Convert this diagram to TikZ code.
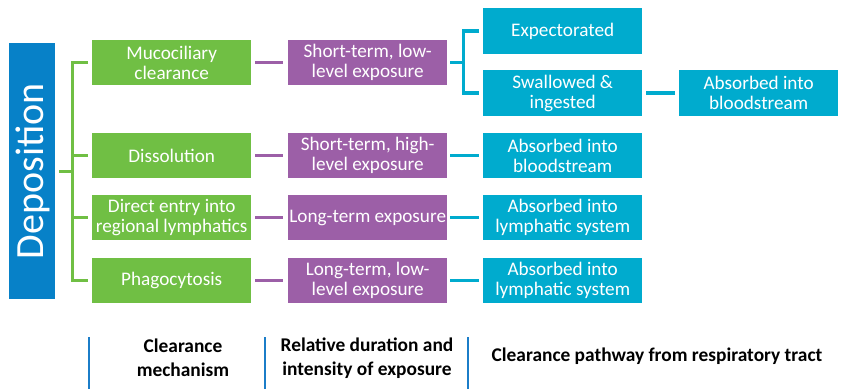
\documentclass[tikz,border=0pt]{standalone}
\usepackage{fontspec}
\setmainfont{Carlito}
\definecolor{depblue}{HTML}{0781C8}
\definecolor{mechgreen}{HTML}{70BF44}
\definecolor{expopurple}{HTML}{9C5FA7}
\definecolor{pathteal}{HTML}{00ABCE}
\definecolor{rulerblue}{HTML}{1B7DC8}
\tikzset{
  box/.style={anchor=north west, inner sep=0pt, minimum width=159pt,
    minimum height=45pt, align=center, text=white,
    font=\fontsize{19.2}{20}\selectfont},
  mech/.style={box, fill=mechgreen},
  expo/.style={box, fill=expopurple},
  path/.style={box, fill=pathteal, minimum height=46pt},
  gline/.style={draw=mechgreen, line width=3pt},
  pline/.style={draw=expopurple, line width=3.5pt},
  tline/.style={draw=pathteal, line width=3.5pt},
  ruler/.style={draw=rulerblue, line width=2.5pt},
  caption/.style={align=center, font=\fontsize{19.4}{24}\selectfont\bfseries}
}
\begin{document}
\begin{tikzpicture}[x=1pt,y=-1pt]
  \useasboundingbox (0,0) rectangle (847,389);

  % root
  \node[fill=depblue, anchor=north west, minimum width=46pt, minimum height=256pt,
    inner sep=0pt] (dep) at (9,43) {};
  \node[rotate=90, text=white, font=\fontsize{40}{40}\selectfont] (deptxt)
    at ([xshift=1pt]dep.center) {Deposition};

  % clearance mechanisms
  \node[mech] (muco) at (92,40) {Mucociliary\\clearance};
  \node[mech] (diss) at (92,133) {Dissolution};
  \node[mech] (lymph) at (92,195) {Direct entry into\\regional lymphatics};
  \node[mech] (phago) at (92,258) {Phagocytosis};

  % exposure
  \node[expo] (stlow) at (288,40) {Short-term, low-\\level exposure};
  \node[expo] (sthigh) at (288,133) {Short-term, high-\\level exposure};
  \node[expo] (lt) at (288,195) {Long-term exposure};
  \node[expo] (ltlow) at (288,258) {Long-term, low-\\level exposure};

  % pathways
  \node[path] (expec) at (483,8) {Expectorated};
  \node[path] (swal) at (483,70) {Swallowed \&\\ingested};
  \node[path] (blood) at (679,70) {Absorbed into\\bloodstream};
  \node[path, minimum height=45pt] (blood2) at (483,133) {Absorbed into\\bloodstream};
  \node[path, minimum height=45pt] (lsys) at (483,195) {Absorbed into\\lymphatic system};
  \node[path, minimum height=45pt] (lsys2) at (483,258) {Absorbed into\\lymphatic system};

  % green bracket
  \draw[gline] ([xshift=4pt]dep.east) -- ++(13,0) coordinate (gfork);
  \draw[gline] ([xshift=-4pt]muco.west) -| (gfork) |- ([xshift=-4pt]phago.west);
  \draw[gline] (gfork |- diss.west) -- ([xshift=-4pt]diss.west);
  \draw[gline] (gfork |- lymph.west) -- ([xshift=-4pt]lymph.west);

  % purple links
  \foreach \a/\b in {muco/stlow, diss/sthigh, lymph/lt, phago/ltlow}
    \draw[pline] ([xshift=4pt]\a.east) -- ([xshift=-5pt]\b.west);

  % teal links
  \draw[tline] ([xshift=3pt]stlow.east) -- ++(13,0) coordinate (tfork);
  \draw[tline] ([xshift=-4pt]expec.west) -| (tfork) |- ([xshift=-4pt]swal.west);
  \draw[tline] ([xshift=4pt]swal.east) -- ([xshift=-4pt]blood.west);
  \foreach \a/\b in {sthigh/blood2, lt/lsys, ltlow/lsys2}
    \draw[tline] ([xshift=3pt]\a.east) -- ([xshift=-4pt]\b.west);

  % column captions
  \coordinate (r1) at (89,337);
  \coordinate (r2) at (265,337);
  \coordinate (r3) at (468,337);
  \foreach \r in {r1,r2,r3}
    \draw[ruler] (\r) -- ++(0,52);
  \node[caption] (capmech) at (183,358) {Clearance\\mechanism};
  \node[caption] (capexpo) at (367,358) {Relative duration and\\intensity of exposure};
  \node[caption] (cappath) at (657,356) {Clearance pathway from respiratory tract};
\end{tikzpicture}
\end{document}
